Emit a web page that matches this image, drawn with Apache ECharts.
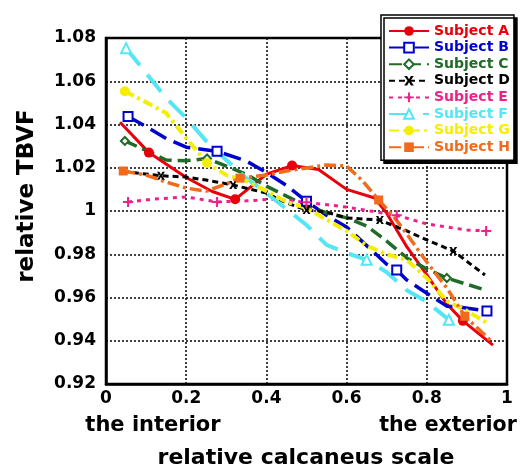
<!DOCTYPE html>
<html>
<head>
<meta charset="utf-8">
<script src="https://cdn.jsdelivr.net/npm/echarts@6/dist/echarts.min.js"></script>
<style>html,body{margin:0;padding:0;background:#fff}#c{width:525px;height:468px}</style>
</head>
<body>
<div id="c"></div>
<script>
// ---- data ----
const subjects = ['Subject A','Subject B','Subject C','Subject D','Subject E','Subject F','Subject G','Subject H'];
const xTicks = [0, 0.2, 0.4, 0.6, 0.8, 1];
const yTicks = [0.92, 0.94, 0.96, 0.98, 1, 1.02, 1.04, 1.06, 1.08];

const xA = [0.035,0.107,0.2,0.265,0.322,0.4,0.464,0.53,0.6,0.67,0.7,0.75,0.8,0.85,0.89,0.965];
const yA = [1.041,1.027,1.0155,1.009,1.0054,1.017,1.021,1.0192,1.010,1.006,0.999,0.9835,0.9705,0.957,0.9492,0.938];

const xB = [0.055,0.1,0.15,0.2,0.277,0.35,0.4,0.45,0.5,0.55,0.6,0.65,0.7,0.725,0.75,0.8,0.85,0.88,0.95];
const yB = [1.0437,1.039,1.0335,1.0295,1.0276,1.0231,1.0178,1.0118,1.0045,0.998,0.9926,0.984,0.9754,0.9727,0.9681,0.962,0.956,0.9556,0.9538];

const xC = [0.047,0.1,0.15,0.2,0.252,0.3,0.35,0.4,0.45,0.5,0.55,0.6,0.65,0.7,0.75,0.8,0.85,0.945];
const yC = [1.0324,1.028,1.0236,1.0232,1.0243,1.0208,1.017,1.0115,1.0069,1.0023,0.9992,0.9968,0.9931,0.9861,0.9783,0.9732,0.969,0.9635];

const xD = [0.042,0.137,0.2,0.25,0.317,0.4,0.45,0.5,0.55,0.6,0.683,0.75,0.8,0.866,0.945];
const yD = [1.0183,1.0163,1.0157,1.0143,1.012,1.0083,1.0037,1.0005,0.9995,0.9968,0.9958,0.9908,0.9866,0.9815,0.9704];

const xE = [0.055,0.12,0.2,0.277,0.35,0.42,0.5,0.6,0.725,0.8,0.9,0.948];
const yE = [1.0042,1.0055,1.0065,1.0042,1.0047,1.0055,1.0040,1.0018,0.998,0.994,0.9912,0.9908];

const xF = [0.05,0.1,0.15,0.2,0.25,0.3,0.35,0.4,0.45,0.5,0.55,0.6,0.65,0.7,0.75,0.8,0.855,0.885];
const yF = [1.0753,1.0638,1.0522,1.043,1.0323,1.0236,1.0152,1.0083,1.0009,0.9935,0.9843,0.9806,0.9774,0.9717,0.9634,0.958,0.9497,0.9515];

const xG = [0.047,0.1,0.15,0.2,0.252,0.3,0.35,0.4,0.45,0.5,0.55,0.6,0.65,0.7,0.75,0.8,0.85,0.9,0.95];
const yG = [1.0554,1.0503,1.0453,1.0337,1.0222,1.0166,1.0139,1.0092,1.0042,1.0014,0.996,0.9908,0.984,0.980,0.9774,0.969,0.9584,0.9538,0.9483];

const xH = [0.043,0.1,0.15,0.2,0.25,0.3,0.334,0.4,0.45,0.5,0.55,0.6,0.64,0.68,0.72,0.75,0.8,0.85,0.895,0.96];
const yH = [1.0185,1.0166,1.0134,1.0106,1.0092,1.0125,1.0152,1.0166,1.0185,1.0199,1.0213,1.0208,1.0139,1.0051,0.9968,0.9894,0.9764,0.9644,0.9513,0.94];

const seriesX = [xA,xB,xC,xD,xE,xF,xG,xH];
const seriesY = [yA,yB,yC,yD,yE,yF,yG,yH];

// ---- styling ----
const FONT = 'DejaVu Sans';
const xMarkPath = 'path://M0,0 L3,0 L5,3.5 L7,0 L10,0 L6.5,5 L10,10 L7,10 L5,6.5 L3,10 L0,10 L3.5,5 Z';
const plusPath = 'path://M4,0 H6 V4 H10 V6 H6 V10 H4 V6 H0 V4 H4 Z';
const styles = [
  {color:'#e8000b', dash:'solid',        width:3,   symbol:'circle',        size:10, marks:[0.107,0.322,0.464,0.89]},
  {color:'#0000d0', dash:[18,8],         width:3.5, symbol:'emptyRect',     size:9,  marks:[0.055,0.277,0.5,0.725,0.95]},
  {color:'#1f6b27', dash:[13,6],         width:3.5, symbol:'emptyDiamond',  size:8,  marks:[0.047,0.252,0.85]},
  {color:'#000000', dash:[6,4],          width:3,   symbol:xMarkPath,       size:8,  marks:[0.137,0.317,0.5,0.683,0.866]},
  {color:'#f0208a', dash:[4,5],          width:3,   symbol:plusPath,        size:10, marks:[0.055,0.277,0.5,0.725,0.948]},
  {color:'#55e6f5', dash:[22,12],        width:4,   symbol:'emptyTriangle', size:10, marks:[0.05,0.65,0.855]},
  {color:'#f5ee00', dash:[10,4,3,4],     width:4,   symbol:'circle',        size:10, marks:[0.047,0.252]},
  {color:'#f26b1d', dash:[12,4,3,4],     width:3.5, symbol:'rect',          size:9,  marks:[0.043,0.334,0.68,0.895]}
];

const series = subjects.map((name, i) => {
  const st = styles[i];
  const data = seriesX[i].map((x, j) => {
    const item = {value: [x, seriesY[i][j]]};
    if (st.marks.indexOf(x) < 0) item.symbol = 'none';
    return item;
  });
  return {
    name, type: 'line', data,
    symbol: st.symbol, symbolSize: st.size, showSymbol: true,
    lineStyle: {color: st.color, width: st.width, type: st.dash, cap: 'butt'},
    itemStyle: {color: st.color, borderWidth: st.symbol.indexOf('empty') === 0 ? 1.5 : 0},
    emphasis: {disabled: true},
    animation: false
  };
});

const chart = echarts.init(document.getElementById('c'), null, {renderer: 'canvas'});
chart.setOption({
  animation: false,
  backgroundColor: '#fff',
  grid: {left: 106, right: 18, top: 38, bottom: 84, show: true, borderColor: '#000', borderWidth: 2.5},
  xAxis: {
    type: 'value', min: xTicks[0], max: xTicks[xTicks.length - 1], interval: 0.2,
    axisLine: {show: true, lineStyle: {color: '#000', width: 2.5}},
    axisTick: {show: false},
    splitLine: {show: true, lineStyle: {color: '#000', width: 1.5, type: [2, 2]}},
    axisLabel: {color: '#000', fontFamily: FONT, fontWeight: 'bold', fontSize: 17, margin: 6,
      formatter: v => String(+v.toFixed(2))}
  },
  yAxis: {
    type: 'value', min: yTicks[0], max: yTicks[yTicks.length - 1], interval: 0.02,
    axisLine: {show: true, lineStyle: {color: '#000', width: 2.5}},
    axisTick: {show: false},
    splitLine: {show: true, lineStyle: {color: '#000', width: 1.5, type: [2, 2]}},
    axisLabel: {color: '#000', fontFamily: FONT, fontWeight: 'bold', fontSize: 17, margin: 10,
      formatter: v => String(+v.toFixed(2))}
  },
  legend: {
    left: 381, top: 15, orient: 'vertical',
    padding: [9, 4, 6, 7], itemWidth: 40, itemHeight: 12, itemGap: 2.6,
    backgroundColor: '#fff', borderColor: '#000', borderWidth: 1.5, borderRadius: 0,
    shadowColor: '#000', shadowOffsetX: 3, shadowOffsetY: 3, shadowBlur: 0,
    textStyle: {fontFamily: FONT, fontWeight: 'bold', fontSize: 14},
    data: subjects.map((n, i) => ({name: n, textStyle: {color: styles[i].color}})),
    selectedMode: false
  },
  graphic: [
    {type: 'text', x: 153, y: 426, style: {text: 'the interior', fill: '#000',
      font: 'bold 21px "DejaVu Sans"', align: 'center', verticalAlign: 'middle'}},
    {type: 'text', x: 448, y: 426, style: {text: 'the exterior', fill: '#000',
      font: 'bold 20.5px "DejaVu Sans"', align: 'center', verticalAlign: 'middle'}},
    {type: 'text', x: 306, y: 458, style: {text: 'relative calcaneus scale', fill: '#000',
      font: 'bold 22px "DejaVu Sans"', align: 'center', verticalAlign: 'middle'}},
    {type: 'text', x: 27, y: 196, rotation: Math.PI / 2, style: {text: 'relative TBVF', fill: '#000',
      font: 'bold 23px "DejaVu Sans"', align: 'center', verticalAlign: 'middle'}}
  ],
  series
});
</script>
</body>
</html>
